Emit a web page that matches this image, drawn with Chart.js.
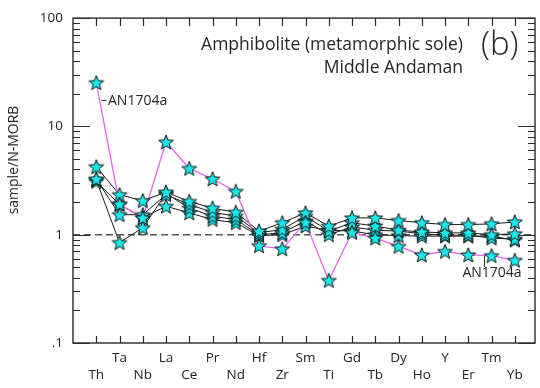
<!DOCTYPE html>
<html lang="en">
<head>
  <meta charset="UTF-8">
  <title>Amphibolite N-MORB</title>
  <script src="https://cdn.jsdelivr.net/npm/chart.js"></script>
  <style>
    body {
      margin: 0;
      background: #ffffff;
    }

    .wrap {
      width: 540px;
      height: 388px;
    }
  </style>
</head>
<body>

<div class="wrap">
  <canvas id="grafico" width="540" height="388"></canvas>
</div>

<script>
  // element order along the x axis
  const elementos = ['Th', 'Ta', 'Nb', 'La', 'Ce', 'Pr', 'Nd', 'Hf', 'Zr', 'Sm', 'Ti', 'Gd', 'Tb', 'Dy', 'Ho', 'Y', 'Er', 'Tm', 'Yb'];

  // sample / N-MORB values
  const an1704a = [25.3, 1.92, 1.43, 7.16, 4.09, 3.27, 2.51, 0.79, 0.74, 1.3, 0.378, 1.05, 0.93, 0.78, 0.65, 0.70, 0.65, 0.64, 0.58];
  const amostraA = [4.24, 2.34, 2.06, 2.47, 2.03, 1.76, 1.61, 1.08, 1.29, 1.59, 1.2, 1.43, 1.43, 1.35, 1.29, 1.24, 1.24, 1.26, 1.31];
  const amostraB = [3.27, 1.53, 1.53, 2.34, 1.9, 1.61, 1.48, 1.04, 1.12, 1.48, 1.08, 1.29, 1.2, 1.1, 1.06, 1.04, 1.04, 1.0, 1.02];
  const amostraC = [3.2, 0.845, 1.16, 2.4, 1.76, 1.48, 1.38, 1.0, 1.04, 1.34, 1.0, 1.18, 1.1, 1.08, 1.02, 0.99, 0.99, 0.93, 0.91];
  const amostraD = [3.1, 1.9, 1.43, 1.83, 1.59, 1.38, 1.29, 0.98, 1.0, 1.2, 1.1, 1.08, 1.0, 0.98, 0.97, 0.97, 0.97, 0.97, 0.89];

  const ticksY = [0.1, 1, 10, 100];
  const labelsY = ['.1', '1', '10', '100'];

  const fonte = "'Open Sans', 'Noto Sans', sans-serif";

  // filled five point star used as point marker
  function criarEstrela() {
    const c = document.createElement('canvas');
    c.width = 18;
    c.height = 18;
    const g = c.getContext('2d');
    g.beginPath();
    for (let i = 0; i < 10; i++) {
      const r = i % 2 ? 3.3 : 7.8;
      const a = -Math.PI / 2 + i * Math.PI / 5;
      const px = 9 + r * Math.cos(a);
      const py = 9.6 + r * Math.sin(a);
      if (i === 0) g.moveTo(px, py); else g.lineTo(px, py);
    }
    g.closePath();
    g.fillStyle = '#17eaec';
    g.fill();
    g.lineWidth = 1;
    g.strokeStyle = '#111';
    g.stroke();
    return c;
  }
  const estrela = criarEstrela();

  function pontos(valores) {
    return valores.map((v, i) => ({ x: i, y: v }));
  }

  const pretas = [amostraA, amostraB, amostraC, amostraD];
  const datasets = [];

  // stars on top
  [an1704a].concat(pretas).forEach(v => {
    datasets.push({
      data: pontos(v),
      showLine: false,
      pointStyle: estrela,
      order: 0
    });
  });

  datasets.push({
    data: pontos(an1704a),
    borderColor: '#e264ea',
    borderWidth: 1.3,
    pointRadius: 0,
    order: 1
  });

  pretas.forEach(v => {
    datasets.push({
      data: pontos(v),
      borderColor: '#1a1a1a',
      borderWidth: 1,
      pointRadius: 0,
      order: 2
    });
  });

  // reference line at 1
  datasets.push({
    data: [{ x: -1, y: 1 }, { x: 19, y: 1 }],
    borderColor: '#555',
    borderWidth: 1.4,
    borderDash: [7, 4],
    pointRadius: 0,
    order: 3
  });

  const molduraPlugin = {
    id: 'moldura',
    afterDraw(chart) {
      const ctx = chart.ctx;
      const a = chart.chartArea;
      const sx = chart.scales.x;
      const sy = chart.scales.y;
      ctx.save();
      ctx.strokeStyle = '#2a2a2a';
      ctx.lineWidth = 1.4;
      ctx.strokeRect(a.left, a.top, a.right - a.left, a.bottom - a.top);

      ctx.lineWidth = 1.2;
      ctx.beginPath();
      // log ticks, left and right, pointing in
      for (let d = -1; d <= 2; d++) {
        for (let m = 1; m <= 9; m++) {
          const v = m * Math.pow(10, d);
          if (v > 100.0001) continue;
          const y = Math.round(sy.getPixelForValue(v)) + 0.5;
          const len = m === 1 ? 17 : 7;
          ctx.moveTo(a.left, y); ctx.lineTo(a.left + len, y);
          ctx.moveTo(a.right, y); ctx.lineTo(a.right - len, y);
        }
      }
      // element ticks, top and bottom
      elementos.forEach((_, i) => {
        const x = Math.round(sx.getPixelForValue(i)) + 0.5;
        ctx.moveTo(x, a.bottom); ctx.lineTo(x, a.bottom - 7);
        ctx.moveTo(x, a.top); ctx.lineTo(x, a.top + 8);
      });
      ctx.stroke();

      // texts
      ctx.fillStyle = '#262626';
      ctx.textBaseline = 'middle';
      ctx.textAlign = 'right';
      ctx.font = '17.5px ' + fonte;
      ctx.fillText('Amphibolite (metamorphic sole)', 463, 45);
      ctx.fillText('Middle Andaman', 463, 68);

      ctx.textAlign = 'left';
      ctx.font = '300 33px ' + fonte;
      ctx.fillText('(b)', 481, 46);

      // AN1704a labels
      ctx.font = '14px ' + fonte;
      ctx.fillText('AN1704a', 108, 101);
      ctx.textAlign = 'center';
      ctx.fillText('AN1704a', 492, 273);
      ctx.strokeStyle = '#333';
      ctx.lineWidth = 1;
      ctx.beginPath();
      ctx.moveTo(101.5, 100.5); ctx.lineTo(106.5, 100.5);
      ctx.moveTo(484.5, 256); ctx.lineTo(484.5, 267);
      ctx.stroke();

      // y axis title
      ctx.save();
      ctx.translate(14, 160);
      ctx.rotate(-Math.PI / 2);
      ctx.textAlign = 'center';
      ctx.font = '14px ' + fonte;
      ctx.fillText('sample/N-MORB', 0, 0);
      ctx.restore();

      ctx.restore();
    }
  };

  new Chart(document.getElementById('grafico').getContext('2d'), {
    type: 'line',
    data: { datasets: datasets },
    options: {
      responsive: false,
      animation: false,
      events: [],
      layout: { padding: { left: 0, right: 1, top: 14, bottom: 0 } },
      plugins: {
        legend: { display: false },
        tooltip: { enabled: false }
      },
      scales: {
        x: {
          type: 'linear',
          min: -1,
          max: 18.87,
          grid: { display: false, drawTicks: false },
          border: { display: false },
          afterBuildTicks: s => { s.ticks = elementos.map((_, i) => ({ value: i })); },
          afterFit: s => { s.height = 45; },
          ticks: {
            autoSkip: false,
            maxRotation: 0,
            padding: 7,
            color: '#222',
            font: { family: fonte, size: 13.5, lineHeight: '17px' },
            callback: v => {
              const i = Math.round(v);
              if (i < 0 || i >= elementos.length) return '';
              return i % 2 === 0 ? ['', elementos[i]] : [elementos[i], ''];
            }
          }
        },
        y: {
          type: 'logarithmic',
          min: 0.1,
          max: 100,
          grid: { display: false, drawTicks: false },
          border: { display: false },
          afterBuildTicks: s => { s.ticks = ticksY.map(v => ({ value: v })); },
          afterFit: s => { s.width = 73; },
          ticks: {
            autoSkip: false,
            padding: 10,
            color: '#222',
            font: { family: fonte, size: 13.5 },
            callback: v => {
              const k = ticksY.findIndex(t => Math.abs(t - v) < 1e-9);
              return k >= 0 ? labelsY[k] : '';
            }
          }
        }
      }
    },
    plugins: [molduraPlugin]
  });
</script>

</body>
</html>
